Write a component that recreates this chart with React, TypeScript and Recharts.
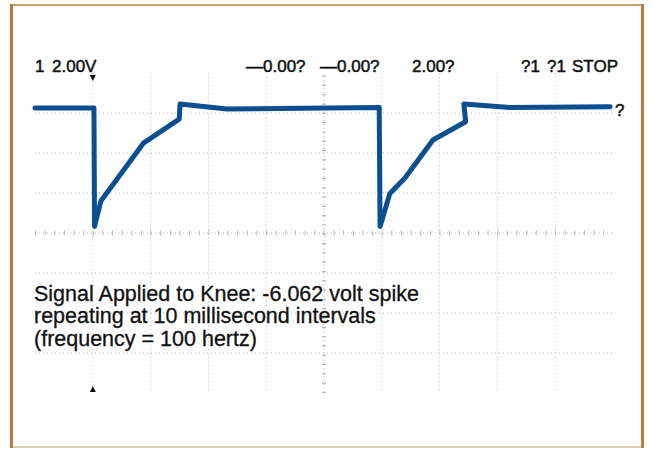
import React from 'react';
import { LineChart, Line, XAxis, YAxis, CartesianGrid, ReferenceLine, ReferenceDot } from 'recharts';

// sweep: 2 ms / div, 2 V / div
const timeMs = [0, 2.04, 2.06, 2.28, 3.75, 4.99, 5.02, 6.64, 11.91, 11.94, 12.28, 12.8, 13.77, 14.9, 14.84, 16.44, 19.9];
const volts = [6.25, 6.25, 0.33, 1.6, 4.49, 5.69, 6.45, 6.2, 6.28, 0.32, 1.98, 2.75, 4.65, 5.56, 6.45, 6.28, 6.31];

const xTicks = [0, 2, 4, 6, 8, 10, 12, 14, 16, 18, 20];
const yTicks = [-8, -6, -4, -2, 0, 2, 4, 6, 8];
const gridX = [2, 4, 6, 8, 12, 14, 16, 18];
const gridY = [-6, -4, -2, 2, 4, 6];

const headerLabels = [
    { text: '1', x: 35 },
    { text: '2.00V', x: 52 },
    { text: '\u20140.00?', x: 246 },
    { text: '\u20140.00?', x: 320 },
    { text: '2.00?', x: 412 },
    { text: '?1', x: 521 },
    { text: '?1', x: 547 },
    { text: 'STOP', x: 572 },
];

const captionLines = [
    'Signal Applied to Knee: -6.062 volt spike',
    'repeating at 10 millisecond intervals',
    '(frequency = 100 hertz)',
];

const data = timeMs.map((t, i) => ({ t, v: volts[i] }));

const W = 653;
const H = 449;
const FONT = '"Liberation Sans", Arial, Helvetica, sans-serif';
const GRID = '#b8b8b8';

const arrowDown = (props: any) => (
    <path d={`M${props.cx - 3},${props.cy + 2} L${props.cx + 3},${props.cy + 2} L${props.cx},${props.cy + 8} Z`} fill="#111" />
);
const arrowUp = (props: any) => (
    <path d={`M${props.cx - 3},${props.cy - 1} L${props.cx + 3},${props.cy - 1} L${props.cx},${props.cy - 7} Z`} fill="#111" />
);

const App: React.FC = () => {
    return (
        <div style={{ position: 'absolute', left: 0, top: 0, width: W, height: H, background: 'white', fontFamily: FONT }}>
            <LineChart width={W} height={H} data={data} margin={{ top: 73, right: 40, left: 35, bottom: 56 }}>
                <XAxis dataKey="t" type="number" domain={[0, 20]} ticks={xTicks} hide />
                <YAxis type="number" domain={[-8, 8]} ticks={yTicks} hide />
                <CartesianGrid
                    stroke={GRID}
                    strokeDasharray="1 3"
                    horizontalValues={gridY}
                    verticalValues={gridX}
                />
                {/* center graticule with minor ticks */}
                <ReferenceLine y={0} stroke={GRID} strokeDasharray="1 3" />
                <ReferenceLine y={0} stroke={GRID} strokeWidth={5} strokeDasharray="1 8.63" />
                <ReferenceLine x={10} stroke={GRID} strokeDasharray="1 3" />
                <ReferenceLine x={10} stroke={GRID} strokeWidth={4} strokeDasharray="1.2 8.1" />
                <ReferenceDot x={2} y={8} r={0} shape={arrowDown} ifOverflow="visible" />
                <ReferenceDot x={2} y={-8} r={0} shape={arrowUp} ifOverflow="visible" />
                <Line
                    type="linear"
                    dataKey="v"
                    stroke="#0b4f91"
                    strokeWidth={5}
                    strokeLinejoin="round"
                    strokeLinecap="round"
                    dot={false}
                    isAnimationActive={false}
                />
            </LineChart>
            <svg width={W} height={H} style={{ position: 'absolute', left: 0, top: 0, pointerEvents: 'none' }}>
                <rect x={10} y={4} width={634} height={2} fill="#c9a072" />
                <rect x={10} y={446} width={634} height={2} fill="#e2ccb0" />
                <rect x={10} y={4} width={3} height={444} fill="#b97b44" />
                <rect x={641} y={4} width={3} height={444} fill="#b97b44" />
                {headerLabels.map((l, i) => (
                    <text key={i} x={l.x} y={72} fontSize={17} fill="#111" stroke="#111" strokeWidth={0.5} fontFamily={FONT}>{l.text}</text>
                ))}
                <text x={615} y={116} fontSize={17} fill="#111" stroke="#111" strokeWidth={0.5} fontFamily={FONT}>?</text>
                {captionLines.map((line, i) => (
                    <text key={i} x={34} y={300.5 + i * 22.5} fontSize={21.5} fill="#111" stroke="#111" strokeWidth={0.3} fontFamily={FONT}>{line}</text>
                ))}
            </svg>
        </div>
    );
};

export default App;
